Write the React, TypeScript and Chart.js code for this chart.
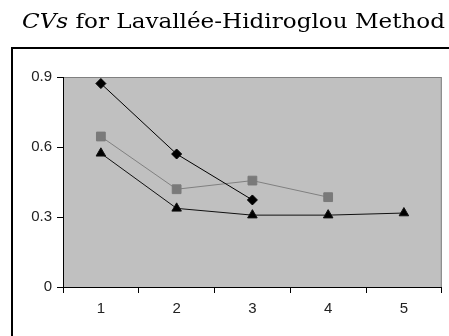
import React, { useEffect, useRef } from "react";
import { Chart, registerables } from "chart.js";

Chart.register(...registerables);

const categories = ["1", "2", "3", "4", "5"];
const diamondValues = [0.872, 0.57, 0.373, null, null];
const squareValues = [0.645, 0.419, 0.456, 0.385, null];
const triangleValues = [0.573, 0.337, 0.308, 0.308, 0.317];
const yTicks = [0, 0.3, 0.6, 0.9];
const titleItalic = "CVs";
const titleRest = " for Lavallée-Hidiroglou Method";

const W = 449;
const H = 336;

const decorPlugin = {
  id: "decor",
  beforeDraw(chart: any) {
    const { ctx, chartArea } = chart;
    ctx.save();
    ctx.fillStyle = "#ffffff";
    ctx.fillRect(0, 0, W, H);
    // outer frame
    ctx.strokeStyle = "#000000";
    ctx.lineWidth = 2;
    ctx.strokeRect(12, 48, W + 20, H + 20);
    // plot background
    ctx.fillStyle = "#c0c0c0";
    ctx.fillRect(chartArea.left, chartArea.top, chartArea.right - chartArea.left, chartArea.bottom - chartArea.top);
    ctx.strokeStyle = "#808080";
    ctx.lineWidth = 1;
    ctx.strokeRect(chartArea.left + 0.5, chartArea.top + 0.5, chartArea.right - chartArea.left - 1, chartArea.bottom - chartArea.top);
    // title
    const size = 19.5;
    const fItal = `italic ${size}px "DejaVu Serif"`;
    const fRom = `${size}px "DejaVu Serif"`;
    ctx.font = fItal;
    const w1 = ctx.measureText(titleItalic).width;
    ctx.font = fRom;
    const w2 = ctx.measureText(titleRest).width;
    const target = 423;
    const sx = target / (w1 + w2);
    ctx.translate(22, 28);
    ctx.scale(sx, 1);
    ctx.fillStyle = "#000000";
    ctx.textBaseline = "alphabetic";
    ctx.textAlign = "left";
    ctx.font = fItal;
    ctx.fillText(titleItalic, 0, 0);
    ctx.font = fRom;
    ctx.fillText(titleRest, w1, 0);
    ctx.restore();
  },
};

export default function App() {
  const ref = useRef<HTMLCanvasElement | null>(null);
  useEffect(() => {
    if (!ref.current) return;
    const chart = new Chart(ref.current, {
      type: "line",
      data: {
        labels: categories,
        datasets: [
          {
            data: diamondValues,
            borderColor: "#000000",
            backgroundColor: "#000000",
            borderWidth: 1,
            pointStyle: "rectRot",
            pointRadius: 5,
            pointBorderWidth: 1,
          },
          {
            data: squareValues,
            borderColor: "#808080",
            backgroundColor: "#7a7a7a",
            pointBorderColor: "#7a7a7a",
            borderWidth: 1,
            pointStyle: "rect",
            pointRadius: 6.2,
            pointBorderWidth: 1,
          },
          {
            data: triangleValues,
            borderColor: "#111111",
            backgroundColor: "#000000",
            borderWidth: 1,
            pointStyle: "triangle",
            pointRadius: 5.5,
            pointBorderWidth: 1,
          },
        ],
      },
      options: {
        animation: false,
        responsive: false,
        spanGaps: false,
        layout: { padding: { left: 0, top: 77, right: W - 443, bottom: 0 } },
        plugins: { legend: { display: false }, title: { display: false }, tooltip: { enabled: false } },
        scales: {
          x: {
            offset: true,
            grid: { offset: true, drawOnChartArea: false, drawTicks: true, tickLength: 6, color: "#000000" },
            border: { color: "#000000", width: 1 },
            ticks: { color: "#222222", font: { family: "Liberation Sans", size: 15 }, padding: 7, maxRotation: 0 },
            afterFit: (s: any) => { s.height = H - 287; },
          },
          y: {
            min: 0,
            max: 0.9,
            afterBuildTicks: (s: any) => { s.ticks = yTicks.map((v) => ({ value: v })); },
            grid: { drawOnChartArea: false, drawTicks: true, tickLength: 6, color: "#000000" },
            border: { color: "#000000", width: 1 },
            ticks: {
              color: "#222222",
              font: { family: "Liberation Sans", size: 15 },
              padding: 5,
              callback: (v: any) => String(v),
            },
            afterFit: (s: any) => { s.width = 63; },
          },
        },
      },
      plugins: [decorPlugin],
    });
    return () => chart.destroy();
  }, []);
  return (
    <div style={{ position: "absolute", left: 0, top: 0, width: W, height: H }}>
      <canvas ref={ref} width={W} height={H} style={{ display: "block", width: W, height: H }} />
    </div>
  );
}
